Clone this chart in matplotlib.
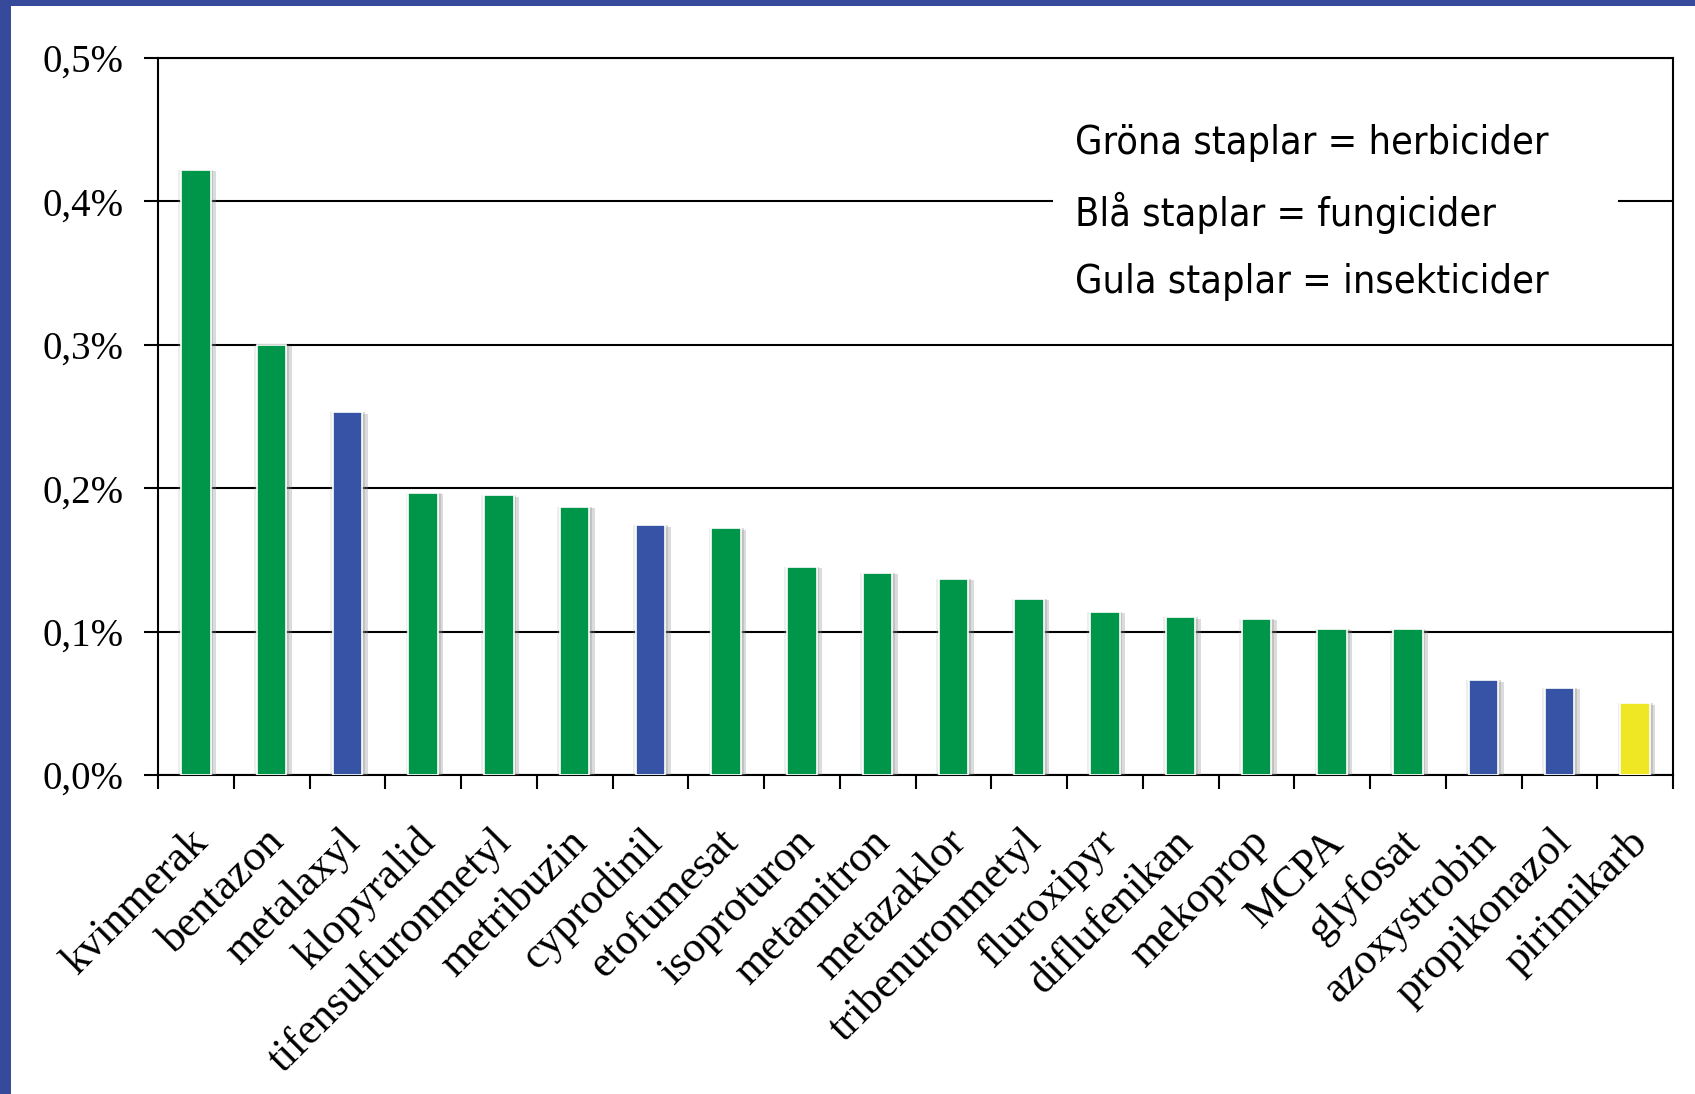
import matplotlib.pyplot as plt
import matplotlib.patheffects as pe
import matplotlib.transforms as mtransforms
from matplotlib.patches import Rectangle

# Andel (%) per substans, sorterat fallande
substanser = ["kvinmerak", "bentazon", "metalaxyl", "klopyralid", "tifensulfuronmetyl",
              "metribuzin", "cyprodinil", "etofumesat", "isoproturon", "metamitron",
              "metazaklor", "tribenuronmetyl", "fluroxipyr", "diflufenikan", "mekoprop",
              "MCPA", "glyfosat", "azoxystrobin", "propikonazol", "pirimikarb"]
andel = [0.422, 0.300, 0.253, 0.197, 0.195,
         0.187, 0.174, 0.172, 0.145, 0.141,
         0.137, 0.123, 0.114, 0.110, 0.109,
         0.102, 0.102, 0.066, 0.061, 0.050]
# h = herbicid, f = fungicid, i = insekticid
typ = ["h", "h", "f", "h", "h", "h", "f", "h", "h", "h",
       "h", "h", "h", "h", "h", "h", "h", "f", "f", "i"]
yticks = [0.0, 0.1, 0.2, 0.3, 0.4, 0.5]
ylabels = ["0,0%", "0,1%", "0,2%", "0,3%", "0,4%", "0,5%"]
legend_rows = ["Gröna staplar = herbicider", "Blå staplar = fungicider", "Gula staplar = insekticider"]

farger = {"h": "#00964a", "f": "#3653a5", "i": "#f0e724"}
border_blue = "#37499b"

fig = plt.figure(figsize=(16.95, 10.94), dpi=100)
fig.patch.set_facecolor(border_blue)
# white panel inside the blue frame (frame only on left and top)
fig.patches.append(Rectangle((11 / 1695, 0), 1, 1 - 6 / 1094, transform=fig.transFigure,
                             facecolor="white", edgecolor="none", zorder=-10))

ax = fig.add_axes([158 / 1695, 1 - 775 / 1094, (1673 - 158) / 1695, (775 - 58) / 1094])
ax.set_facecolor("none")

x = list(range(len(substanser)))
bars = ax.bar(x, andel, width=0.39, color=[farger[t] for t in typ],
              edgecolor="white", linewidth=1.2, zorder=3)
for b in bars:
    b.set_path_effects([pe.SimplePatchShadow(offset=(4, -1), shadow_rgbFace="#888888", alpha=0.3),
                        pe.SimplePatchShadow(offset=(2, 0), shadow_rgbFace="#888888", alpha=0.3),
                        pe.SimplePatchShadow(offset=(-2, 0), shadow_rgbFace="#aaaaaa", alpha=0.2),
                        pe.Normal()])

ax.set_xlim(-0.5, len(substanser) - 0.5)
ax.set_ylim(0, 0.5)
ax.set_yticks(yticks)
ax.set_yticklabels(ylabels, family="Liberation Serif", fontsize=28)
ax.yaxis.grid(True, color="black", linewidth=1.5, zorder=1)
ax.set_axisbelow(True)

ax.set_xticks(x)
ax.set_xticklabels(substanser, family="Liberation Serif", fontsize=31.5,
                   rotation=45, ha="right", va="center", rotation_mode="anchor")
ax.tick_params(axis="x", length=0, pad=44)
shift = mtransforms.ScaledTranslation(6 / 100, 0, fig.dpi_scale_trans)
for lbl in ax.get_xticklabels():
    lbl.set_transform(lbl.get_transform() + shift)
ax.set_xticks([i - 0.5 for i in range(len(substanser) + 1)], minor=True)
ax.tick_params(axis="x", which="minor", length=10, width=1.5, direction="out")
ax.tick_params(axis="y", length=10, width=1.5, direction="out", pad=15)

for s in ax.spines.values():
    s.set_color("black")
    s.set_linewidth(1.5)

# textruta med färgförklaring, täcker stödlinjen
ax.add_patch(Rectangle((0.591, 0.629), 0.373, 0.31, transform=ax.transAxes,
                       facecolor="white", edgecolor="none", zorder=2))
for i, rad in enumerate(legend_rows):
    ax.text(0.605, 0.881 - i * 0.097, rad, transform=ax.transAxes,
            family="DejaVu Sans", fontstretch="condensed", fontsize=28.4,
            va="center", ha="left", zorder=4)

fig.savefig("out.png", dpi=100, facecolor=fig.get_facecolor())
